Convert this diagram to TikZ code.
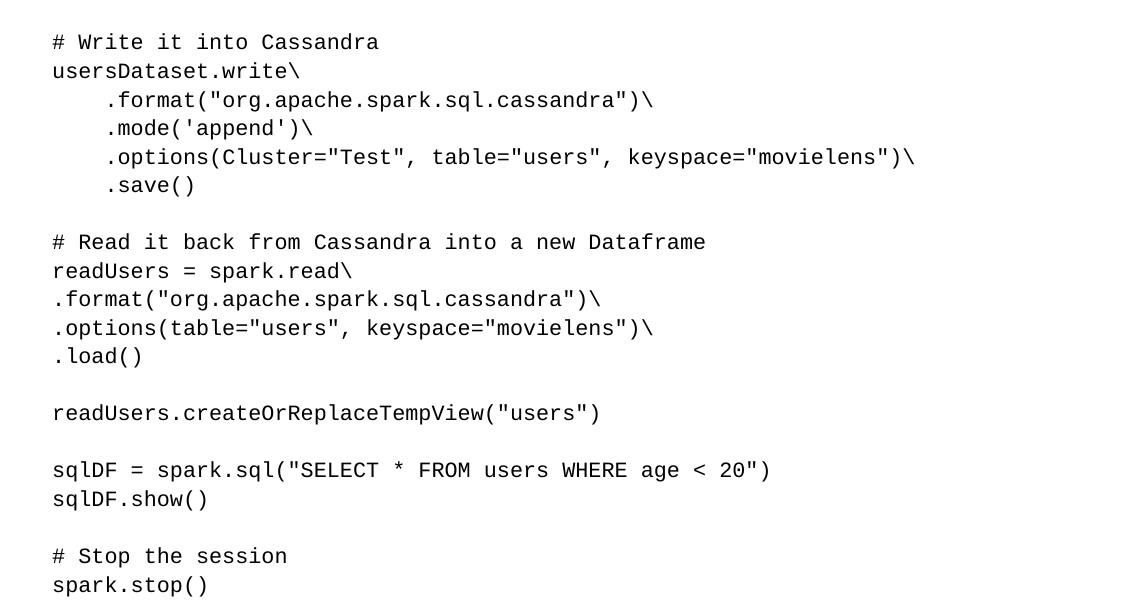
\documentclass[tikz,border=0pt]{standalone}
\usepackage{fontspec}
\setmonofont{Liberation Mono}
\begin{document}
\begin{tikzpicture}[x=1pt,y=-1pt,
  code/.style={anchor=base west,inner sep=0pt,font=\ttfamily\fontsize{21.8}{26}\selectfont,text=black}]
\useasboundingbox[fill=white] (0,0) rectangle (1123,607);
\def\p{28.53}
\node[code] (l1) at (52,50+0*\p) {\# Write it into Cassandra};
\node[code] (l2) at (52,50+1*\p) {usersDataset.write\textbackslash};
\node[code] (l3) at (52,50+2*\p) {\ \ \ \ .format("org.apache.spark.sql.cassandra")\textbackslash};
\node[code] (l4) at (52,50+3*\p) {\ \ \ \ .mode('append')\textbackslash};
\node[code] (l5) at (52,50+4*\p) {\ \ \ \ .options(Cluster="Test", table="users", keyspace="movielens")\textbackslash};
\node[code] (l6) at (52,50+5*\p) {\ \ \ \ .save()};
\node[code] (l8) at (52,50+7*\p) {\# Read it back from Cassandra into a new Dataframe};
\node[code] (l9) at (52,50+8*\p) {readUsers = spark.read\textbackslash};
\node[code] (l10) at (52,50+9*\p) {.format("org.apache.spark.sql.cassandra")\textbackslash};
\node[code] (l11) at (52,50+10*\p) {.options(table="users", keyspace="movielens")\textbackslash};
\node[code] (l12) at (52,50+11*\p) {.load()};
\node[code] (l14) at (52,50+13*\p) {readUsers.createOrReplaceTempView("users")};
\node[code] (l16) at (52,50+15*\p) {sqlDF = spark.sql("SELECT * FROM users WHERE age < 20")};
\node[code] (l17) at (52,50+16*\p) {sqlDF.show()};
\node[code] (l19) at (52,50+18*\p) {\# Stop the session};
\node[code] (l20) at (52,50+19*\p) {spark.stop()};
\end{tikzpicture}
\end{document}
